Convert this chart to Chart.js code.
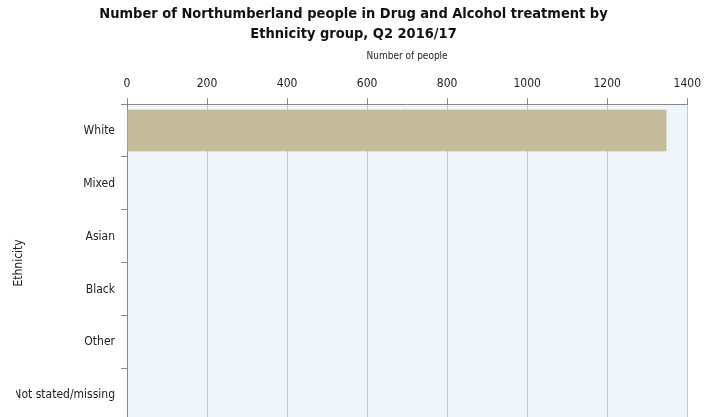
<!DOCTYPE html>
<html lang="en">
<head>
  <meta charset="UTF-8">
  <title>Drug and Alcohol treatment by Ethnicity</title>
  <script src="https://cdn.jsdelivr.net/npm/chart.js"></script>
  <style>
    html, body { margin: 0; padding: 0; background: #fff; overflow: hidden; }
    canvas { display: block; }
  </style>
</head>
<body>
  <canvas id="ethnicityChart" width="708" height="435"></canvas>

<script>
  const ethnicities = ['White', 'Mixed', 'Asian', 'Black', 'Other', 'Not stated/missing'];
  const peopleInTreatment = [1348, 0, 0, 0, 0, 0];
  const xTicks = [0, 200, 400, 600, 800, 1000, 1200, 1400];

  const condensed = "'DejaVu Sans Condensed', 'Liberation Sans Narrow', 'Arial Narrow', sans-serif";

  // light blue fill behind the plot area
  const plotBackground = {
    id: 'plotBackground',
    beforeDraw(chart) {
      const { ctx, chartArea } = chart;
      ctx.save();
      ctx.fillStyle = '#eff5fa';
      ctx.fillRect(chartArea.left, chartArea.top, chartArea.right - chartArea.left, chartArea.bottom - chartArea.top);
      ctx.restore();
    }
  };

  new Chart(document.getElementById('ethnicityChart'), {
    type: 'bar',
    data: {
      labels: ethnicities,
      datasets: [{
        label: 'Number of people',
        data: peopleInTreatment,
        backgroundColor: '#c4bc9a',
        barPercentage: 0.78,
        categoryPercentage: 1
      }]
    },
    options: {
      indexAxis: 'y',
      responsive: false,
      animation: false,
      layout: { padding: { left: 16, right: 17, top: 0, bottom: 3 } },
      plugins: {
        legend: { display: false },
        tooltip: { enabled: false },
        title: {
          display: true,
          text: ['Number of Northumberland people in Drug and Alcohol treatment by', 'Ethnicity group, Q2 2016/17'],
          color: '#111',
          font: { family: condensed, size: 14.5, weight: 'bold', lineHeight: 1.38 },
          padding: { top: 4, bottom: 2 }
        }
      },
      scales: {
        x: {
          position: 'top',
          min: 0,
          max: 1400,
          afterBuildTicks: (scale) => { scale.ticks = xTicks.map(v => ({ value: v })); },
          afterFit: (scale) => { scale.height = 58; },
          ticks: {
            color: '#222',
            padding: 7,
            font: { family: condensed, size: 12 },
            callback: (v) => String(v)
          },
          grid: { color: '#c9c9c9', tickColor: '#888', tickLength: 6 },
          border: { color: '#888' },
          title: {
            display: true,
            text: 'Number of people',
            color: '#222',
            font: { family: condensed, size: 10 },
            padding: { top: 4, bottom: 0 }
          }
        },
        y: {
          afterFit: (scale) => { scale.width = 111; },
          ticks: { color: '#222', padding: 6, font: { family: condensed, size: 12 } },
          grid: { offset: true, drawOnChartArea: false, tickColor: '#888', tickLength: 6 },
          border: { color: '#888' },
          title: {
            display: true,
            text: 'Ethnicity',
            color: '#222',
            font: { family: condensed, size: 12 },
            padding: { top: -4, bottom: 0 }
          }
        }
      }
    },
    plugins: [plotBackground]
  });
</script>
</body>
</html>
